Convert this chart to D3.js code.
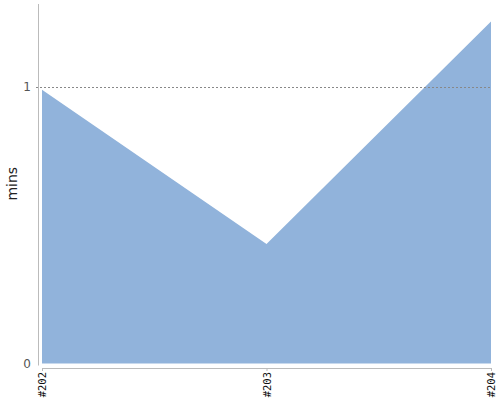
<!DOCTYPE html>
<html lang="en">
<head>
    <meta charset="UTF-8">
    <title>mins per build</title>
    <script src="https://d3js.org/d3.v7.min.js"></script>
    <style>
        body { margin: 0; background: #fff; }
        svg { display: block; font-family: "DejaVu Sans", sans-serif; }
    </style>
</head>
<body>
    <div id="chart"></div>
    <script>
        // Data
        const builds = ["#202", "#203", "#204"];
        const mins = [0.99, 0.432, 1.237];
        const yTicks = [0, 1];

        const W = 500, H = 400;
        const margin = {top: 4, right: 9, bottom: 36.5, left: 42};
        const width = W - margin.left - margin.right;
        const height = H - margin.top - margin.bottom;

        const svg = d3.select("#chart").append("svg")
            .attr("width", W)
            .attr("height", H);

        const g = svg.append("g")
            .attr("transform", `translate(${margin.left},${margin.top})`);

        const x = d3.scalePoint().domain(builds).range([0, width]);
        const y = d3.scaleLinear().domain([0, 1.3]).range([height, 0]);

        const data = builds.map((b, i) => ({b: b, v: mins[i]}));

        // Filled area
        const area = d3.area()
            .x(d => x(d.b))
            .y0(y(0))
            .y1(d => y(d.v));

        g.append("path")
            .datum(data)
            .attr("d", area)
            .attr("fill", "#91b3db");

        // Dashed grid line at 1
        g.selectAll(".grid")
            .data(yTicks.filter(t => t > 0))
            .join("line")
            .attr("x1", -6)
            .attr("x2", width)
            .attr("y1", d => Math.round(y(d)) + 0.5)
            .attr("y2", d => Math.round(y(d)) + 0.5)
            .attr("stroke", "#888")
            .attr("stroke-dasharray", "2,2");

        // Left axis
        g.append("line")
            .attr("x1", -3.5).attr("x2", -3.5)
            .attr("y1", 0).attr("y2", height + 2)
            .attr("stroke", "#bbb");

        g.selectAll(".ytick")
            .data(yTicks)
            .join("text")
            .attr("x", -11)
            .attr("y", d => y(d))
            .attr("dy", "0.35em")
            .attr("text-anchor", "end")
            .attr("font-size", "12px")
            .attr("fill", "#555")
            .text(d => d);

        // Bottom axis
        const xAxis = g.append("g")
            .attr("transform", `translate(0,${height + 4.5})`)
            .call(d3.axisBottom(x).tickSize(3).tickSizeOuter(0));
        xAxis.select(".domain").attr("stroke", "#bbb");
        xAxis.selectAll(".tick line").attr("stroke", "#bbb");
        xAxis.selectAll(".tick text")
            .attr("transform", "rotate(-90)")
            .attr("text-anchor", "end")
            .attr("x", -4)
            .attr("y", 0)
            .attr("dy", "0.35em")
            .attr("font-size", "10.5px")
            .attr("font-family", "DejaVu Sans Mono, monospace")
            .attr("fill", "#111");

        // Y label
        svg.append("text")
            .attr("transform", `translate(17,${margin.top + height / 2}) rotate(-90)`)
            .attr("text-anchor", "middle")
            .attr("font-size", "14px")
            .attr("fill", "#222")
            .text("mins");
    </script>
</body>
</html>
